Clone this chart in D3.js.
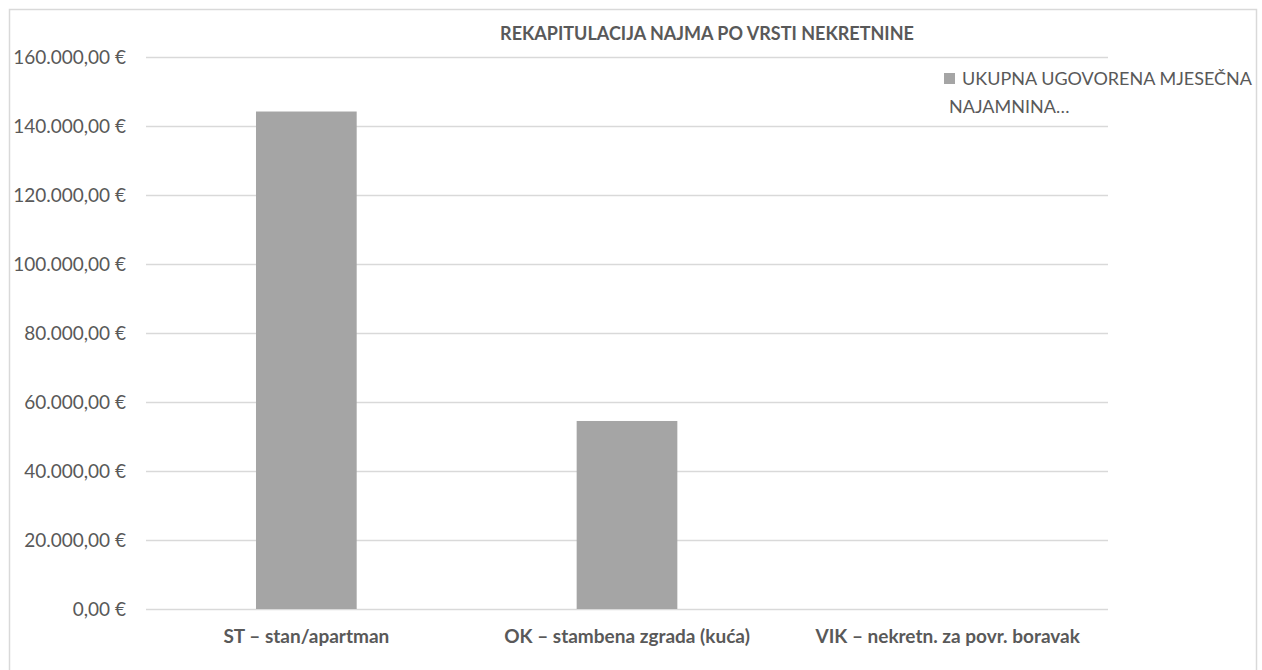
<!DOCTYPE html>
<html>
<head>
<meta charset="utf-8">
<script src="https://cdn.jsdelivr.net/npm/d3@7"></script>
<style>
  body { margin: 0; background: #fff; }
  text { font-family: Lato, "Open Sans", sans-serif; fill: #595959; }
</style>
</head>
<body>
<div id="chart-area"></div>
<script>
// data
const categories = ["ST – stan/apartman", "OK – stambena zgrada (kuća)", "VIK – nekretn. za povr. boravak"]
const values = [144200, 54500, 0]
const yTicks = [0, 20000, 40000, 60000, 80000, 100000, 120000, 140000, 160000]
const seriesName = ["UKUPNA UGOVORENA MJESEČNA", "NAJAMNINA…"]
const title = "REKAPITULACIJA NAJMA PO VRSTI NEKRETNINE"

const W = 1262, H = 670
const margin = { left: 146, right: 154, top: 57, bottom: 61 }

const svg = d3.select("#chart-area").append("svg")
  .attr("width", W)
  .attr("height", H)

// chart border
svg.append("rect")
  .attr("x", 9.5).attr("y", 9.5)
  .attr("width", 1247).attr("height", 700)
  .attr("fill", "none")
  .attr("stroke", "#d9d9d9")
  .attr("stroke-width", 1.5)

const x = d3.scaleBand()
  .domain(categories)
  .range([margin.left, W - margin.right])
  .paddingInner(0.686)
  .paddingOuter(0.343)

const y = d3.scaleLinear()
  .domain([0, 160000])
  .range([H - margin.bottom, margin.top])

const fmt = v => d3.format(",.2f")(v).replace(/,/g, "#").replace(".", ",").replace(/#/g, ".") + " €"

// gridlines
svg.append("g")
  .selectAll("line")
  .data(yTicks)
  .enter().append("line")
  .attr("x1", margin.left)
  .attr("x2", W - margin.right)
  .attr("y1", d => Math.round(y(d)) + 0.5)
  .attr("y2", d => Math.round(y(d)) + 0.5)
  .attr("stroke", "#d9d9d9")
  .attr("stroke-width", 1.5)

// y axis labels
const yAxis = d3.axisLeft(y).tickValues(yTicks).tickFormat(fmt).tickSize(0).tickPadding(20)
const gy = svg.append("g")
  .attr("transform", `translate(${margin.left},0)`)
  .call(yAxis)
gy.select(".domain").remove()
gy.selectAll("text")
  .attr("font-size", 19)
  .style("font-family", "Lato, sans-serif")
  .attr("fill", "#595959")

// bars
svg.append("g")
  .selectAll("rect")
  .data(values)
  .enter().append("rect")
  .attr("x", (d, i) => x(categories[i]))
  .attr("width", x.bandwidth())
  .attr("y", d => y(d))
  .attr("height", d => y(0) - y(d))
  .attr("fill", "#a5a5a5")

// x axis labels
const xAxis = d3.axisBottom(x).tickSize(0).tickPadding(21)
const gx = svg.append("g")
  .attr("transform", `translate(0,${y(0)})`)
  .call(xAxis)
gx.select(".domain").remove()
gx.selectAll("text")
  .attr("font-size", 19)
  .attr("font-weight", "bold")
  .style("font-family", "Lato, sans-serif")
  .attr("fill", "#595959")

// title
svg.append("text")
  .attr("x", 707)
  .attr("y", 40)
  .attr("text-anchor", "middle")
  .attr("font-size", 18)
  .attr("font-weight", "bold")
  .text(title)

// legend
const legend = svg.append("g")
svg.append("rect")
  .attr("x", 944).attr("y", 73)
  .attr("width", 11).attr("height", 11)
  .attr("fill", "#a5a5a5")
legend.selectAll("text")
  .data(seriesName)
  .enter().append("text")
  .attr("x", (d, i) => i === 0 ? 962 : 949)
  .attr("y", (d, i) => 85 + i * 28)
  .attr("font-size", 18)
  .text(d => d)
</script>
</body>
</html>
